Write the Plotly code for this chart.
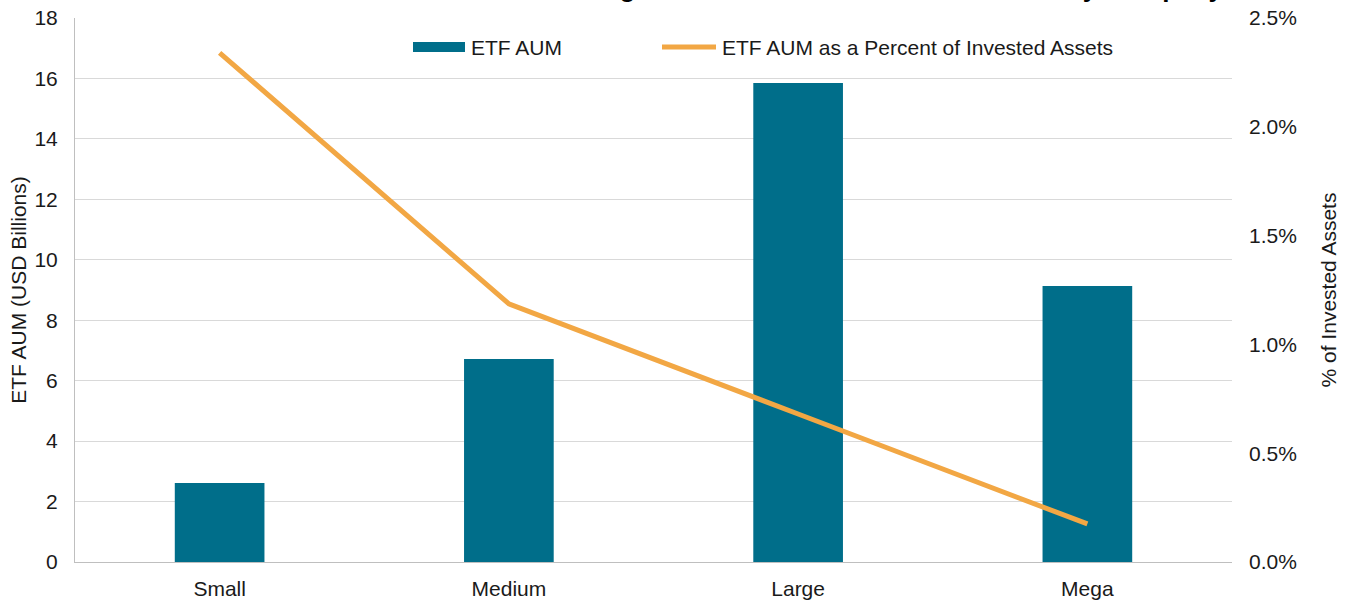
import plotly.graph_objects as go

categories = ["Small", "Medium", "Large", "Mega"]
etf_aum = [2.61, 6.72, 15.85, 9.13]
pct_invested = [2.34, 1.186, 0.68, 0.175]
left_ticks = [0, 2, 4, 6, 8, 10, 12, 14, 16, 18]
right_ticks = [0.0, 0.5, 1.0, 1.5, 2.0, 2.5]
right_labels = [f"{v:.1f}%" for v in right_ticks]

BAR = "#006E8A"
LINE = "#F2A744"
FONT = "Liberation Sans, Arial, sans-serif"
TXT = "#1a1a1a"
FS = 21

W, H = 1351, 600
L, T = 75, 18
PW, PH = 1157, 544
R, B = W - L - PW, H - T - PH

fig = go.Figure()
fig.add_trace(go.Bar(x=categories, y=etf_aum, name="ETF AUM", marker_color=BAR,
                     marker_line_width=0, width=0.31, yaxis="y"))
fig.add_trace(go.Scatter(x=categories, y=pct_invested, name="ETF AUM as a Percent of Invested Assets",
                         mode="lines", line=dict(color=LINE, width=5), yaxis="y2"))

fig.update_layout(
    width=W, height=H,
    margin=dict(l=L, r=R, t=T, b=B, autoexpand=False),
    plot_bgcolor="white", paper_bgcolor="white",
    showlegend=False,
    font=dict(family=FONT, size=FS, color=TXT),
    xaxis=dict(type="category", range=[-0.5, 3.5], showgrid=False, showline=True, automargin=False,
               linecolor="#BFBFBF", linewidth=1, ticks="", ticklabelstandoff=8,
               ticklabeloverflow="allow", tickfont=dict(size=FS, color=TXT)),
    yaxis=dict(range=[0, 18], tickvals=left_ticks, showgrid=True, gridcolor="#D9D9D9", automargin=False,
               gridwidth=1, showline=True, linecolor="#BFBFBF", linewidth=1, zeroline=False,
               ticks="", ticklabelstandoff=12, ticklabeloverflow="allow",
               title=dict(text="ETF AUM (USD Billions)", font=dict(size=FS, color=TXT), standoff=2),
               tickfont=dict(size=FS, color=TXT)),
    yaxis2=dict(range=[0, 2.5], tickvals=right_ticks, ticktext=right_labels, automargin=False,
                overlaying="y", side="right", showgrid=False, showline=False, zeroline=False,
                ticks="", ticklabelstandoff=16, ticklabeloverflow="allow",
                title=dict(text="% of Invested Assets", font=dict(size=FS, color=TXT), standoff=25),
                tickfont=dict(size=FS, color=TXT)),
)

# Title (cut off at the top of the page, as in the reference)
fig.add_annotation(text="<b>Insurer ETF Holdings: Absolute and Relative to Assets by Company Size</b>",
                   xref="paper", yref="paper", x=(1284-L)/PW, y=1.0, xanchor="right", yanchor="bottom",
                   yshift=13, showarrow=False, font=dict(size=26, color="#000000", family=FONT))

# Custom legend
LEG_Y = (562-47)/PH
fig.add_shape(type="rect", xref="paper", yref="paper", x0=(413-L)/PW, x1=(465-L)/PW,
              y0=(562-52)/PH, y1=(562-42)/PH, fillcolor=BAR, line_width=0)
fig.add_annotation(text="ETF AUM", xref="paper", yref="paper", x=(469-L)/PW, y=LEG_Y,
                   xanchor="left", yanchor="middle", showarrow=False, font=dict(size=FS, color=TXT))
fig.add_shape(type="line", xref="paper", yref="paper", x0=(662-L)/PW, x1=(716-L)/PW,
              y0=LEG_Y, y1=LEG_Y, line=dict(color=LINE, width=5))
fig.add_annotation(text="ETF AUM as a Percent of Invested Assets", xref="paper", yref="paper",
                   x=(720-L)/PW, y=LEG_Y, xanchor="left", yanchor="middle",
                   showarrow=False, font=dict(size=FS, color=TXT))

fig.write_html("out.html", config={"displayModeBar": False},
               post_script="document.body.style.margin='0';")
